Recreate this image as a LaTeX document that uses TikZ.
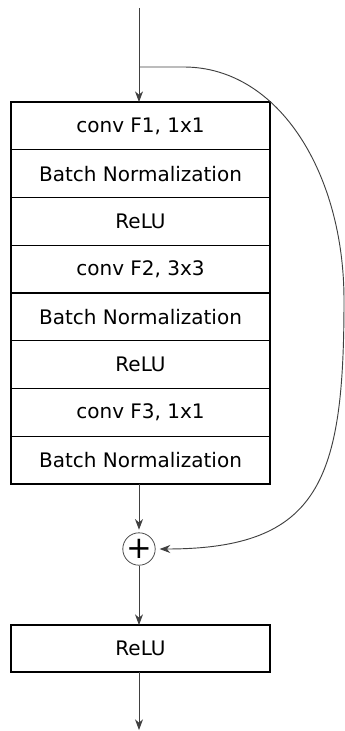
\documentclass[tikz,border=0pt]{standalone}
\usepackage{fontspec}
\setmainfont{DejaVu Sans}
\usetikzlibrary{arrows.meta,positioning}

\tikzset{
  layer/.style={draw=black, line width=0.9pt, minimum width=194.25pt, minimum height=35.8pt,
    inner sep=0pt, outer sep=0pt, font=\fontsize{15}{18}\selectfont},
  conn/.style={draw=black!75, line width=0.7pt, -{Stealth[length=8pt,width=6pt,inset=2.5pt]}},
  addop/.style={draw=black!70, circle, line width=0.6pt, minimum size=21pt, inner sep=0pt,
    font=\fontsize{23}{23}\selectfont}
}

\begin{document}
\begin{tikzpicture}[x=0.75pt,y=0.75pt,yscale=-1,xscale=1]
        \useasboundingbox (0,0) rectangle (345,731);

        % bottleneck stack
        \node[layer] (conv1) at (140.5,125.9) {conv F1, 1x1};
        \node[layer, below=0pt of conv1] (bn1) {Batch Normalization};
        \node[layer, below=0pt of bn1] (relu1) {ReLU};
        \node[layer, below=0pt of relu1] (conv2) {conv F2, 3x3};
        \node[layer, below=0pt of conv2] (bn2) {Batch Normalization};
        \node[layer, below=0pt of bn2] (relu2) {ReLU};
        \node[layer, below=0pt of relu2] (conv3) {conv F3, 1x1};
        \node[layer, below=0pt of conv3] (bn3) {Batch Normalization};

        % addition and output activation
        \node[addop] (add) at (139,549) {\raisebox{0.5pt}{+}};
        \node[layer, minimum height=35.25pt] (relu) at (140.5,648.5) {ReLU};

        \coordinate (in) at (139,8);
        \coordinate (split) at (139,67);
        \coordinate (out) at (139,730);

        % main path
        \draw[conn] (in) -- (in |- conv1.north);
        \draw[conn, shorten >=2pt] (bn3.south -| add) -- (add);
        \draw[conn] (add) -- (add |- relu.north);
        \draw[conn] (relu.south -| out) -- (out);

        % shortcut
        \draw[conn, shorten >=3pt] (split) -- (185,67) .. controls (280,68) and (344,175) .. (344,300)
            .. controls (344,480) and (320,549) .. (add.east);
\end{tikzpicture}
\end{document}
